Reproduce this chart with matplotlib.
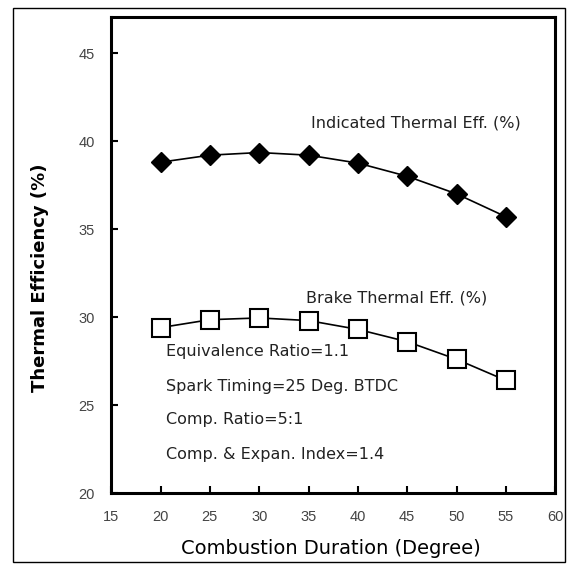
import matplotlib
matplotlib.use("Agg")
import matplotlib.pyplot as plt
from matplotlib.patches import Rectangle

plt.rcParams["font.family"] = ["Liberation Sans", "DejaVu Sans"]

# Data
duration = [20, 25, 30, 35, 40, 45, 50, 55]
indicated_eff = [38.8, 39.2, 39.35, 39.2, 38.75, 38.0, 37.0, 35.7]
brake_eff = [29.4, 29.85, 29.95, 29.8, 29.3, 28.6, 27.6, 26.4]
x_ticks = [15, 20, 25, 30, 35, 40, 45, 50, 55, 60]
y_ticks = [20, 25, 30, 35, 40, 45]
notes = ["Equivalence Ratio=1.1",
         "Spark Timing=25 Deg. BTDC",
         "Comp. Ratio=5:1",
         "Comp. & Expan. Index=1.4"]

WIDE = ["DejaVu Sans"]   # scan text is wide, DejaVu matches it better

fig = plt.figure(figsize=(5.76, 5.68), dpi=100)
ax = fig.add_axes([0.193, 0.132, 0.771, 0.838])

# outer frame round the whole figure
fig.patches.append(Rectangle((13 / 576, 6 / 568), 552 / 576, 554 / 568,
                             transform=fig.transFigure, fill=False,
                             edgecolor="black", lw=1.0))

ax.plot(duration, indicated_eff, "-", color="black", lw=1.2,
        marker="D", ms=10, mfc="black", mec="black")
ax.plot(duration, brake_eff, "-", color="black", lw=1.2,
        marker="s", ms=13, mfc="white", mec="black", mew=1.5)

ax.text(35.2, 41.0, "Indicated Thermal Eff. (%)", fontsize=11.5,
        family=WIDE, va="center", color="#222222")
ax.text(34.7, 31.1, "Brake Thermal Eff. (%)", fontsize=11.5,
        family=WIDE, va="center", color="#222222")
for yy, s in zip([28.07, 26.05, 24.15, 22.2], notes):
    ax.text(20.6, yy, s, fontsize=11.5, family=WIDE, va="center",
            color="#222222")

ax.set_xlim(15, 60)
ax.set_ylim(20, 47.05)
ax.set_xticks(x_ticks)
ax.set_yticks(y_ticks)
ax.tick_params(direction="in", length=5, width=1.5, labelsize=10.5,
               labelcolor="#444444", top=False, right=False, pad=12)
for sp in ax.spines.values():
    sp.set_linewidth(2.2)

fig.text(331 / 576, 1 - 549 / 568, "Combustion Duration (Degree)",
         fontsize=14, family=WIDE, ha="center", va="center")
fig.text(40 / 576, 1 - 278 / 568, "Thermal Efficiency (%)", fontsize=13,
         family=WIDE, fontweight="bold", rotation=90,
         ha="center", va="center")

fig.savefig("out.png", dpi=100, facecolor="white")
